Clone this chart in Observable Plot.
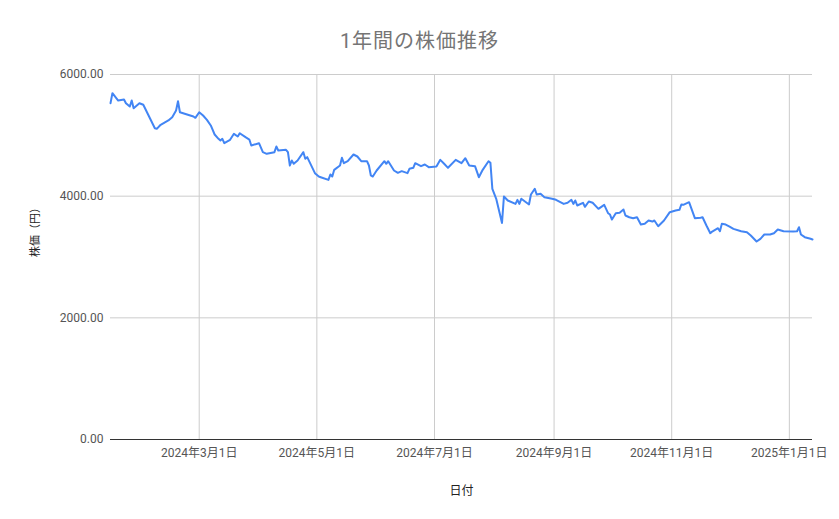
<!DOCTYPE html>
<html>
<head>
<meta charset="utf-8">
<script src="https://cdn.jsdelivr.net/npm/d3@7"></script>
<script src="https://cdn.jsdelivr.net/npm/@observablehq/plot@0.6"></script>
<style>
  html, body { margin: 0; padding: 0; background: #fff; }
  #wrap { position: relative; width: 839px; height: 519px; font-family: Roboto, "Noto Sans CJK JP", sans-serif; }
  #title { position: absolute; left: 0; width: 839px; top: 25px; text-align: center; font-size: 20px; letter-spacing: 1px; color: #757575; }
</style>
</head>
<body>
<div id="wrap">
  <div id="title">1年間の株価推移</div>
</div>
<script>
const title = "1年間の株価推移";
const xLabel = "日付";
const yLabel = "株価（円）";
const yTicks = [0, 2000, 4000, 6000];
const xTicks = ["2024-03-01", "2024-05-01", "2024-07-01", "2024-09-01", "2024-11-01", "2025-01-01"];

const dates = [
  "2024-01-15","2024-01-16","2024-01-19","2024-01-22","2024-01-23","2024-01-25","2024-01-26","2024-01-27","2024-01-30",
  "2024-02-01","2024-02-07","2024-02-08","2024-02-10","2024-02-14","2024-02-16","2024-02-18","2024-02-19","2024-02-20",
  "2024-02-27","2024-02-28","2024-03-01","2024-03-03","2024-03-05","2024-03-07","2024-03-09","2024-03-11","2024-03-12",
  "2024-03-13","2024-03-14","2024-03-17","2024-03-19","2024-03-21","2024-03-22","2024-03-25","2024-03-27","2024-03-28",
  "2024-04-01","2024-04-03","2024-04-05","2024-04-09","2024-04-10","2024-04-11","2024-04-15","2024-04-16","2024-04-17",
  "2024-04-18","2024-04-19","2024-04-21","2024-04-24","2024-04-25","2024-04-26","2024-04-30","2024-05-02","2024-05-03",
  "2024-05-07","2024-05-08","2024-05-09","2024-05-10","2024-05-13","2024-05-14","2024-05-15","2024-05-17","2024-05-20",
  "2024-05-22","2024-05-24","2024-05-27","2024-05-28","2024-05-29","2024-05-30","2024-06-01","2024-06-05","2024-06-06",
  "2024-06-07","2024-06-10","2024-06-12","2024-06-14","2024-06-17","2024-06-18","2024-06-20","2024-06-21","2024-06-24",
  "2024-06-26","2024-06-28","2024-07-02","2024-07-04","2024-07-06","2024-07-08","2024-07-12","2024-07-15","2024-07-17",
  "2024-07-19","2024-07-22","2024-07-24","2024-07-26","2024-07-29","2024-07-30","2024-07-31","2024-08-02","2024-08-05",
  "2024-08-06","2024-08-08","2024-08-12","2024-08-13","2024-08-14","2024-08-15","2024-08-19","2024-08-20","2024-08-22",
  "2024-08-23","2024-08-25","2024-08-27","2024-08-31","2024-09-02","2024-09-06","2024-09-08","2024-09-10","2024-09-11",
  "2024-09-12","2024-09-13","2024-09-16","2024-09-17","2024-09-19","2024-09-21","2024-09-24","2024-09-27","2024-09-29",
  "2024-09-30","2024-10-01","2024-10-03","2024-10-05","2024-10-07","2024-10-08","2024-10-10","2024-10-12","2024-10-14",
  "2024-10-16","2024-10-18","2024-10-20","2024-10-22","2024-10-23","2024-10-25","2024-10-28","2024-10-31","2024-11-03",
  "2024-11-05","2024-11-06","2024-11-07","2024-11-10","2024-11-13","2024-11-16","2024-11-17","2024-11-19","2024-11-21",
  "2024-11-22","2024-11-25","2024-11-26","2024-11-27","2024-11-29","2024-12-01","2024-12-03","2024-12-07","2024-12-10",
  "2024-12-12","2024-12-15","2024-12-17","2024-12-19","2024-12-22","2024-12-24","2024-12-26","2024-12-29","2025-01-03",
  "2025-01-05","2025-01-06","2025-01-07","2025-01-09","2025-01-12","2025-01-13"
];
const prices = [
  5528,5693,5572,5589,5528,5474,5572,5446,5528,
  5502,5117,5107,5173,5244,5298,5408,5561,5380,
  5309,5288,5380,5326,5255,5162,5014,4943,4915,
  4943,4871,4926,5025,4981,5035,4970,4931,4833,
  4871,4723,4696,4723,4816,4751,4762,4723,4504,
  4586,4532,4586,4723,4614,4641,4378,4323,4312,
  4268,4356,4323,4433,4504,4630,4542,4575,4685,
  4652,4575,4575,4504,4340,4323,4422,4575,4532,
  4575,4422,4384,4411,4378,4450,4466,4542,4493,
  4520,4477,4488,4597,4532,4466,4597,4542,4624,
  4504,4493,4312,4433,4575,4548,4121,3957,3560,
  3995,3929,3873,3940,3873,3957,3863,4027,4121,
  4027,4038,3983,3957,3940,3873,3891,3940,3873,
  3929,3847,3891,3825,3912,3891,3792,3858,3720,
  3698,3616,3720,3726,3781,3682,3654,3638,3654,
  3534,3545,3600,3583,3600,3506,3600,3737,3764,
  3775,3863,3858,3901,3638,3644,3654,3518,3391,
  3419,3473,3424,3545,3534,3501,3463,3424,3408,
  3353,3255,3299,3370,3370,3391,3452,3424,3419,
  3424,3490,3370,3326,3299,3288
];

const parse = d3.utcParse("%Y-%m-%d");
const data = dates.map((d, i) => ({date: parse(d), price: prices[i]}));
const tickDates = xTicks.map(parse);
const fmtX = d => `${d.getUTCFullYear()}年${d.getUTCMonth() + 1}月${d.getUTCDate()}日`;

const chart = Plot.plot({
  width: 839,
  height: 519,
  marginLeft: 110,
  marginRight: 27,
  marginTop: 74,
  marginBottom: 80,
  style: {fontFamily: 'Roboto, "Noto Sans CJK JP", sans-serif', fontSize: "12px", color: "#444", background: "transparent"},
  x: {type: "utc", domain: [parse("2024-01-15"), parse("2025-01-13")]},
  y: {domain: [0, 6000]},
  marks: [
    Plot.gridX(tickDates, {stroke: "#cccccc", strokeOpacity: 1}),
    Plot.gridY(yTicks.filter(v => v > 0), {stroke: "#cccccc", strokeOpacity: 1}),
    Plot.ruleY([0], {stroke: "#333333", strokeWidth: 1}),
    Plot.axisX({ticks: tickDates, tickFormat: fmtX, tickSize: 0, tickPadding: 9, label: null, fill: "#555"}),
    Plot.axisY({ticks: yTicks, tickFormat: v => v.toFixed(2), tickSize: 0, tickPadding: 7, label: null, fill: "#555"}),
    Plot.line(data, {x: "date", y: "price", stroke: "#4285f4", strokeWidth: 2, strokeLinejoin: "round"}),
    Plot.text([xLabel], {frameAnchor: "bottom", dy: 55, fill: "#222", fontSize: 12}),
    Plot.text([yLabel], {frameAnchor: "left", dx: -75, rotate: -90, fill: "#222", fontSize: 11})
  ]
});
document.getElementById("wrap").appendChild(chart);
chart.style.position = "absolute";
chart.style.left = "0";
chart.style.top = "0";
</script>
</body>
</html>
